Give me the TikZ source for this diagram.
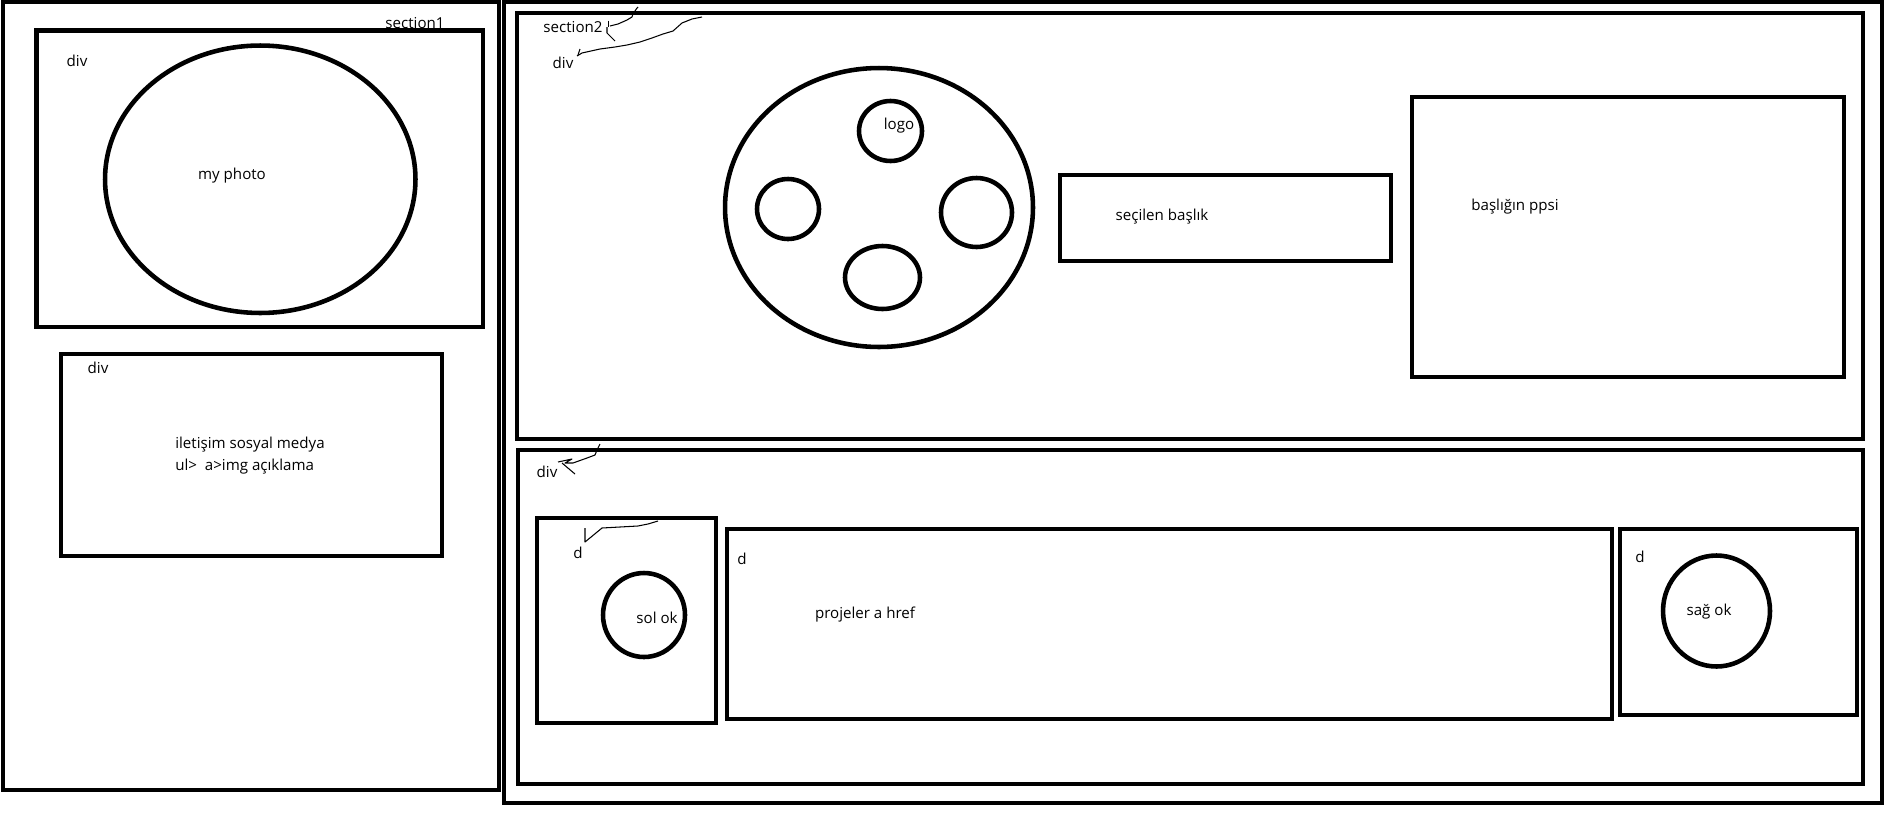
\documentclass[tikz,border=0pt]{standalone}
\usepackage{fontspec}
\setmainfont{Open Sans}
\usepackage{tikz}
\usetikzlibrary{shapes.geometric}

\begin{document}
\begin{tikzpicture}[
    x=0.02cm, y=-0.02cm,
    every node/.style={font=\fontsize{8.6}{12.5}\selectfont},
    box/.style={draw, line width=2.6pt, inner sep=0pt, outer sep=0pt},
    oval/.style={draw, ellipse, line width=2.6pt, inner sep=0pt, outer sep=0pt},
    txt/.style={inner sep=0pt},
    scribble/.style={line width=0.6pt, line join=round},
]
    \useasboundingbox (0,0) rectangle (1903,822);

    % section1
    \node[box, minimum width=9.92cm, minimum height=15.76cm] (sec1) at (251,396) {};
    \node[box, minimum width=8.93cm, minimum height=5.93cm] (photodiv) at (259.75,178.75) {};
    \node[oval, minimum width=6.21cm, minimum height=5.35cm] (photo) at (260.25,179.25) {};
    \node[box, minimum width=7.62cm, minimum height=4.04cm] (contactdiv) at (251.5,455) {};

    \node[txt] (sec1lbl) at (415,23) {section1};
    \node[txt] (photodivlbl) at (77,61) {div};
    \node[txt] (photolbl) at (232,176) {my photo};
    \node[txt] (contactdivlbl) at (98,368) {div};
    \node[txt, align=left, anchor=west] (contactlbl) at (175,456)
        {iletişim sosyal medya\\ul>\ \ a>img açıklama};

    % section2
    \node[box, minimum width=27.56cm, minimum height=16.02cm] (sec2) at (1193,402.5) {};
    \node[box, minimum width=26.92cm, minimum height=8.52cm] (topdiv) at (1190,226) {};
    \node[box, minimum width=26.90cm, minimum height=6.68cm] (botdiv) at (1190.5,617) {};

    \node[txt] (sec2lbl) at (573,27) {section2};
    \node[txt] (topdivlbl) at (563,63) {div};

    % carousel
    \node[oval, minimum width=6.16cm, minimum height=5.58cm] (carousel) at (879,207.5) {};
    \node[oval, minimum width=1.26cm, minimum height=1.20cm] (logo) at (890.5,131) {};
    \node[oval, minimum width=1.24cm, minimum height=1.20cm] (itemleft) at (788,209) {};
    \node[oval, minimum width=1.42cm, minimum height=1.38cm] (itemright) at (976.5,212.5) {};
    \node[oval, minimum width=1.50cm, minimum height=1.26cm] (itembottom) at (882.5,277.5) {};
    \node[txt] (logolbl) at (899,126) {logo};

    \node[box, minimum width=6.62cm, minimum height=1.72cm] (title) at (1225.5,218) {};
    \node[txt] (titlelbl) at (1162,217) {seçilen başlık};
    \node[box, minimum width=8.64cm, minimum height=5.60cm] (ppsi) at (1628,237) {};
    \node[txt] (ppsilbl) at (1515,207) {başlığın ppsi};

    % projects row
    \node[txt] (botdivlbl) at (547,472) {div};
    \node[box, minimum width=3.58cm, minimum height=4.10cm] (leftbox) at (626.5,620.5) {};
    \node[oval, minimum width=1.64cm, minimum height=1.68cm] (leftarrow) at (644,615) {};
    \node[txt] (leftboxlbl) at (578,553) {d};
    \node[txt] (leftarrowlbl) at (657,618) {sol ok};

    \node[box, minimum width=17.70cm, minimum height=3.80cm] (projects) at (1169.5,624) {};
    \node[txt] (projectsdlbl) at (742,559) {d};
    \node[txt] (projectslbl) at (865,615) {projeler a href};

    \node[box, minimum width=4.74cm, minimum height=3.72cm] (rightbox) at (1738.5,622) {};
    \node[oval, minimum width=2.14cm, minimum height=2.22cm] (rightarrow) at (1716.5,611) {};
    \node[txt] (rightboxlbl) at (1640,557) {d};
    \node[txt] (rightarrowlbl) at (1709,612) {sağ ok};

    % hand scribbles
    \draw[scribble] (608.5,20.5) -- (608.5,27);
    \draw[scribble] (610,26) -- (618,24) -- (627,20) -- (632,17) -- (633,14) -- (637,8) -- (638,7);
    \draw[scribble] (607,27) -- (607,33) -- (615,41);
    \draw[scribble] (578,55) -- (580,49);
    \draw[scribble] (577,56) -- (582,53) -- (600,49) -- (615,47) -- (627,45) -- (640,42) -- (652,38)
        -- (663,34) -- (673,31) -- (682,23) -- (692,19) -- (702,17);
    \draw[scribble] (558,462) -- (572,459) -- (565,463) -- (573,463) -- (587,458) -- (595,455)
        -- (597,450) -- (600,444);
    \draw[scribble] (562,463) -- (575,474);
    \draw[scribble] (585,528) -- (585,542) -- (602,528) -- (638,526) -- (648,524) -- (658,521);
\end{tikzpicture}
\end{document}
